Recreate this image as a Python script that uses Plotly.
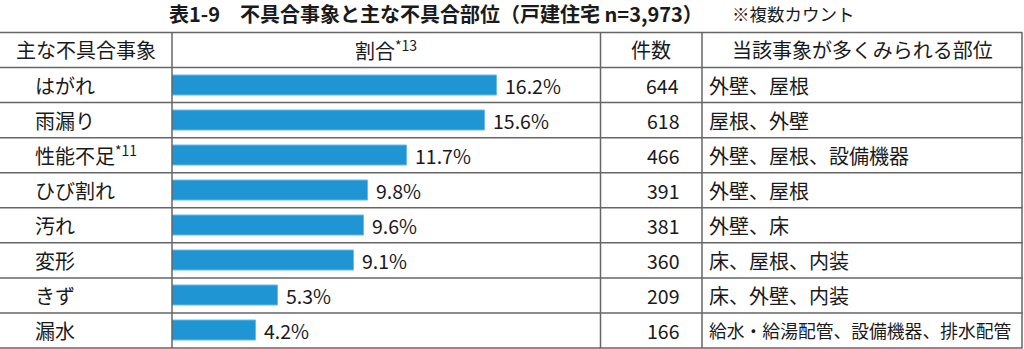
import plotly.graph_objects as go

# ---- data ----
events = ["はがれ", "雨漏り", "性能不足<sup>*11</sup>", "ひび割れ", "汚れ", "変形", "きず", "漏水"]
shares = [16.2, 15.6, 11.7, 9.8, 9.6, 9.1, 5.3, 4.2]
counts = [644, 618, 466, 391, 381, 360, 209, 166]
parts = ["外壁、屋根", "屋根、外壁", "外壁、屋根、設備機器", "外壁、屋根", "外壁、床",
         "床、屋根、内装", "床、外壁、内装", "給水・給湯配管、設備機器、排水配管"]
headers = ["主な不具合事象", "割合<sup>*13</sup>", "件数", "当該事象が多くみられる部位"]
title_main = "表1-9　不具合事象と主な不具合部位（戸建住宅 n=3,973）"
title_note = "※複数カウント"

W, H = 1024, 349
FONT = "Noto Sans CJK JP, Noto Sans, sans-serif"
LINE = "#666666"
BAR = "#1f95d3"
FS = 20

def px(x):
    return x / W

def py(y):
    return 1 - y / H

cats = list(range(len(events)))
top_px, head_px, bot_px = 32.5, 67.5, 348.0
col_x = [172, 600.5, 702, 1022]

fig = go.Figure()
fig.add_trace(go.Bar(
    x=shares, y=cats, orientation="h",
    marker=dict(color=BAR, line=dict(color="#6bbbe6", width=1)),
    width=0.57, hoverinfo="skip", showlegend=False,
))

fig.update_layout(
    width=W, height=H, margin=dict(l=0, r=0, t=0, b=0),
    paper_bgcolor="white", plot_bgcolor="rgba(0,0,0,0)",
    font=dict(family=FONT, color="#1a1a1a"),
    xaxis=dict(domain=[px(172), px(600)], range=[0, 21.35], visible=False, fixedrange=True),
    yaxis=dict(domain=[py(bot_px), py(head_px)], range=[7.5, -0.5], visible=False, fixedrange=True),
    bargap=0,
)

shapes = []
for yp in (top_px, head_px, bot_px):
    shapes.append(dict(type="line", xref="paper", yref="paper", x0=0, x1=px(1022.5),
                       y0=py(yp), y1=py(yp), line=dict(color=LINE, width=1.5)))
for i in range(len(events) - 1):
    shapes.append(dict(type="line", xref="paper", yref="y", x0=0, x1=px(1022.5),
                       y0=i + 0.5, y1=i + 0.5, line=dict(color=LINE, width=1.5)))
for xc in col_x:
    shapes.append(dict(type="line", xref="paper", yref="paper", x0=px(xc), x1=px(xc),
                       y0=py(top_px), y1=py(bot_px), line=dict(color=LINE, width=1.5)))
fig.update_layout(shapes=shapes)

ann = []
ann.append(dict(text="<b>" + title_main + "</b>", x=px(167), y=py(13.5), xref="paper", yref="paper",
                xanchor="left", yanchor="middle", showarrow=False, font=dict(size=20)))
ann.append(dict(text=title_note, x=px(730), y=py(13.5), xref="paper", yref="paper",
                xanchor="left", yanchor="middle", showarrow=False, font=dict(size=17.5)))
head_cx = [86, 386, 651, 862]
for h, cx in zip(headers, head_cx):
    ann.append(dict(text=h, x=px(cx), y=py((top_px + head_px) / 2), xref="paper", yref="paper",
                    xanchor="center", yanchor="middle", showarrow=False, font=dict(size=FS)))
for i in cats:
    ann.append(dict(text=events[i], x=px(33), y=i, xref="paper", yref="y",
                    xanchor="left", yanchor="middle", showarrow=False, font=dict(size=FS)))
    ann.append(dict(text=f"{shares[i]:.1f}%", x=shares[i], y=i, xref="x", yref="y", xshift=6,
                    xanchor="left", yanchor="middle", showarrow=False, font=dict(size=19.5)))
    ann.append(dict(text=str(counts[i]), x=px(681), y=i, xref="paper", yref="y",
                    xanchor="right", yanchor="middle", showarrow=False, font=dict(size=19.5)))
    psize = FS if len(parts[i]) <= 12 else 17.8
    ann.append(dict(text=parts[i], x=px(707), y=i, xref="paper", yref="y",
                    xanchor="left", yanchor="middle", showarrow=False, font=dict(size=psize)))
fig.update_layout(annotations=ann)

fig.write_html("out.html", config={"displayModeBar": False})
